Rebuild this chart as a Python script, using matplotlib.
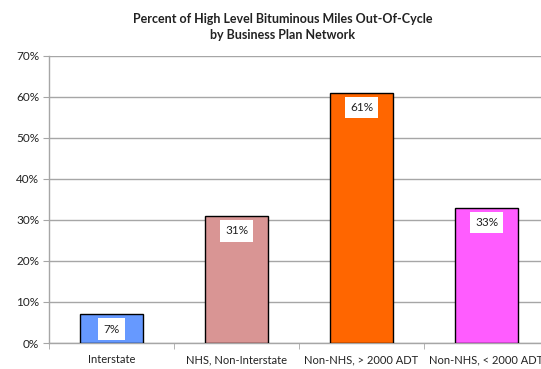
import matplotlib
matplotlib.use("Agg")
import matplotlib.pyplot as plt
from matplotlib.ticker import FixedLocator, PercentFormatter

plt.rcParams['font.family'] = ['Lato', 'DejaVu Sans']

categories = ["Interstate", "NHS, Non-Interstate", "Non-NHS, > 2000 ADT", "Non-NHS, < 2000 ADT"]
values = [7, 31, 61, 33]
colors = ["#6699FF", "#D99594", "#FF6600", "#FF5CFF"]
y_ticks = [0, 10, 20, 30, 40, 50, 60, 70]

fig = plt.figure(figsize=(5.41, 3.69), dpi=100)
ax = fig.add_axes([49 / 541, 26 / 369, 500 / 541, 287.3 / 369])

x = list(range(len(categories)))
bars = ax.bar(x, values, width=0.5, color=colors, edgecolor="black", linewidth=1.0, zorder=3)

# value labels in white boxes just inside the top of each bar
for b, v in zip(bars, values):
    ax.annotate(f"{v}%", xy=(b.get_x() + b.get_width() / 2, v), xytext=(0, -15),
                textcoords="offset pixels",
                ha="center", va="center", fontsize=8.5, color="#222222", zorder=4,
                bbox=dict(boxstyle="square,pad=0.45", fc="white", ec="none"))

ax.set_xlim(-0.5, len(categories) - 0.5)
ax.set_ylim(0, 70)
ax.yaxis.set_major_locator(FixedLocator(y_ticks))
ax.yaxis.set_major_formatter(PercentFormatter(decimals=0))
ax.grid(axis="y", color="#A6A6A6", linewidth=1.0, zorder=0)

ax.set_xticks(x)
ax.set_xticklabels(categories, fontsize=8, color="#222222")
ax.set_xticks([i - 0.5 for i in range(len(categories) + 1)], minor=True)
ax.tick_params(axis="x", which="major", length=0, pad=8)
ax.tick_params(axis="x", which="minor", length=4, color="#A6A6A6", direction="out")
ax.tick_params(axis="y", length=4, color="#A6A6A6", labelsize=8.5, labelcolor="#222222", pad=3)

for s in ["top", "right"]:
    ax.spines[s].set_visible(False)
for s in ["left", "bottom"]:
    ax.spines[s].set_color("#A6A6A6")
    ax.spines[s].set_linewidth(1.0)

fig.text(0.523, 0.965, "Percent of High Level Bituminous Miles Out-Of-Cycle\nby Business Plan Network",
         ha="center", va="top", fontsize=9, fontweight="bold", color="#222222", linespacing=1.4)

fig.savefig("out.png", dpi=100)
